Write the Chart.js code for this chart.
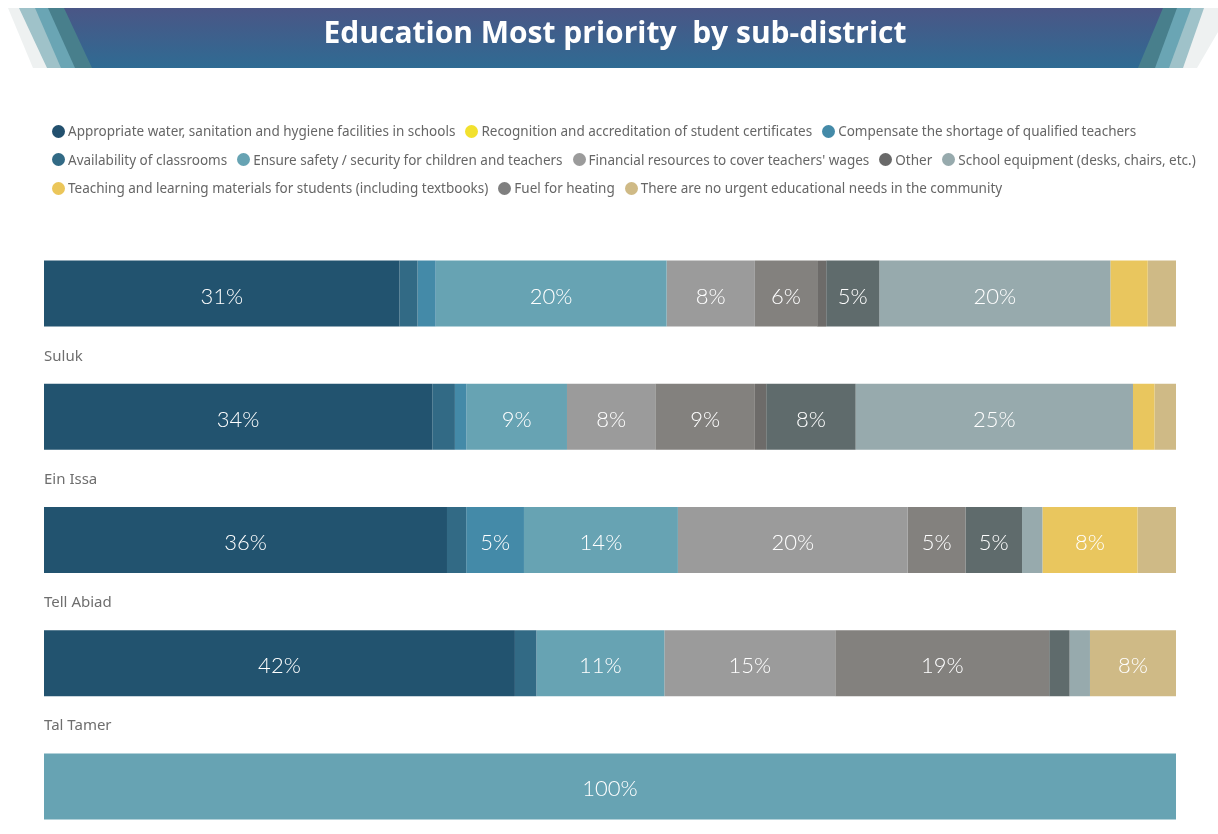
<!DOCTYPE html>
<html>
<head>
<meta charset="utf-8">
<title>Education Most priority by sub-district</title>
<script src="https://cdn.jsdelivr.net/npm/chart.js@4.4.0/dist/chart.umd.min.js"></script>
<style>
    html, body { margin: 0; padding: 0; background: #ffffff; overflow: hidden; }
    #wrap { position: relative; width: 1218px; height: 860px; }
    #legend {
        position: absolute;
        left: 52px;
        top: 117px;
        width: 1160px;
        display: flex;
        flex-wrap: wrap;
        column-gap: 10px;
        font-family: "Noto Sans", sans-serif;
        font-size: 13.5px;
        color: #666666;
    }
    #legend .item { display: flex; align-items: center; height: 28.5px; white-space: nowrap; }
    #legend .dot { width: 13px; height: 13px; border-radius: 50%; margin-right: 3px; }
</style>
</head>
<body>
<div id="wrap">
    <canvas id="priorityChart" width="1218" height="860"></canvas>
    <div id="legend"></div>
</div>
<script>
// Sub-districts, one bar each (name of the last bar is cut off in the picture)
const subDistricts = ["Suluk", "Ein Issa", "Tell Abiad", "Tal Tamer", ""];

// Priorities, in the order they are stacked in the bars
const priorityNames = [
    "Appropriate water, sanitation and hygiene facilities in schools",
    "Availability of classrooms",
    "Compensate the shortage of qualified teachers",
    "Ensure safety / security for children and teachers",
    "Financial resources to cover teachers' wages",
    "Fuel for heating",
    "Other",
    "Recognition and accreditation of student certificates",
    "School equipment (desks, chairs, etc.)",
    "Teaching and learning materials for students (including textbooks)",
    "There are no urgent educational needs in the community"
];

// Share of answers (%) per sub-district
const appropriateWater      = [31.4, 34.3, 35.6, 41.6, 0];
const availabilityClassroom = [1.6, 2.0, 1.7, 1.9, 0];
const compensateTeachers    = [1.6, 1.0, 5.1, 0, 0];
const ensureSafety          = [20.4, 8.9, 13.6, 11.3, 100];
const financialResources    = [7.8, 7.8, 20.3, 15.1, 0];
const fuelHeating           = [5.5, 8.8, 5.1, 18.9, 0];
const otherNeeds            = [0.8, 1.0, 0, 0, 0];
const recognitionCerts      = [4.7, 7.9, 5.0, 1.8, 0];
const schoolEquipment       = [20.4, 24.5, 1.8, 1.8, 0];
const teachingMaterials     = [3.3, 1.9, 8.4, 0, 0];
const noUrgentNeeds         = [2.5, 1.9, 3.4, 7.6, 0];

const seriesValues = [
    appropriateWater, availabilityClassroom, compensateTeachers, ensureSafety,
    financialResources, fuelHeating, otherNeeds, recognitionCerts,
    schoolEquipment, teachingMaterials, noUrgentNeeds
];

// Colours of the bar segments
const barColors = [
    "#22536f", "#326a85", "#448aa8", "#67a3b3", "#9b9b9b", "#83817e",
    "#6d6b69", "#5f6b6c", "#97aaad", "#e9c65e", "#cfba86"
];

// Legend shows the items in another order and with its own dots
const legendOrder = [0, 7, 2, 1, 3, 4, 6, 8, 9, 5, 10];
const legendColors = [
    "#22506e", "#326a85", "#448aa8", "#67a3b3", "#9b9b9b", "#7f7f7f",
    "#696969", "#f2e12e", "#97aaad", "#ebc65a", "#cfba86"
];

// Banner behind the title
const bannerPlugin = {
    id: "banner",
    beforeDraw(chart) {
        const ctx = chart.ctx;
        const top = 8, bottom = 68;
        const layers = [
            { color: "#eef1f1", t: [8, 1232], b: [33, 1197] },
            { color: "#9fc2c9", t: [19, 1204], b: [47, 1183] },
            { color: "#6aa5b4", t: [35, 1191], b: [61, 1169] },
            { color: "#487f8c", t: [48, 1177], b: [75, 1155] }
        ];
        ctx.save();
        layers.forEach(l => {
            ctx.fillStyle = l.color;
            ctx.beginPath();
            ctx.moveTo(l.t[0], top);
            ctx.lineTo(l.t[1], top);
            ctx.lineTo(l.b[1], bottom);
            ctx.lineTo(l.b[0], bottom);
            ctx.closePath();
            ctx.fill();
        });
        const grad = ctx.createLinearGradient(0, top, 0, bottom);
        grad.addColorStop(0, "#4a5686");
        grad.addColorStop(1, "#2f6b93");
        ctx.fillStyle = grad;
        ctx.beginPath();
        ctx.moveTo(64, top);
        ctx.lineTo(1163, top);
        ctx.lineTo(1138, bottom);
        ctx.lineTo(92, bottom);
        ctx.closePath();
        ctx.fill();
        ctx.restore();
    }
};

// Percentages written inside the segments
const segmentLabels = {
    id: "segmentLabels",
    afterDatasetsDraw(chart) {
        const ctx = chart.ctx;
        ctx.save();
        ctx.font = "300 22px Lato";
        ctx.fillStyle = "#ffffff";
        ctx.textAlign = "center";
        ctx.textBaseline = "middle";
        chart.data.datasets.forEach((ds, di) => {
            chart.getDatasetMeta(di).data.forEach((bar, i) => {
                const v = ds.data[i];
                if (v < 4) return;
                const c = bar.getCenterPoint();
                ctx.fillText(Math.round(v) + "%", c.x, c.y + 3);
            });
        });
        ctx.restore();
    }
};

// Sub-district names under each bar
const categoryNames = {
    id: "categoryNames",
    afterDatasetsDraw(chart) {
        const ctx = chart.ctx;
        const yScale = chart.scales.y;
        const meta = chart.getDatasetMeta(0);
        ctx.save();
        ctx.font = "15px 'Noto Sans'";
        ctx.fillStyle = "#6e6e6e";
        ctx.textAlign = "left";
        ctx.textBaseline = "middle";
        subDistricts.forEach((name, i) => {
            const half = meta.data[i].height / 2;
            ctx.fillText(name, chart.chartArea.left, yScale.getPixelForValue(i) + half + 30);
        });
        ctx.restore();
    }
};

const datasets = priorityNames.map((name, i) => ({
    label: name,
    data: seriesValues[i],
    backgroundColor: barColors[i],
    borderWidth: 0,
    barPercentage: 0.536,
    categoryPercentage: 1
}));

new Chart(document.getElementById("priorityChart"), {
    type: "bar",
    data: { labels: subDistricts, datasets: datasets },
    plugins: [bannerPlugin, segmentLabels, categoryNames],
    options: {
        indexAxis: "y",
        responsive: false,
        animation: false,
        layout: { padding: { left: 38, right: 26, top: 0, bottom: 12 } },
        scales: {
            x: {
                stacked: true,
                min: 0,
                max: 100,
                position: "top",
                grid: { display: false },
                border: { display: false },
                ticks: { display: false },
                afterFit: s => { s.height = 29; }
            },
            y: {
                stacked: true,
                grid: { display: false },
                border: { display: false },
                ticks: { display: false },
                afterFit: s => { s.width = 6; }
            },
            yRight: {
                type: "linear",
                position: "right",
                grid: { display: false },
                border: { display: false },
                ticks: { display: false },
                afterFit: s => { s.width = 16; }
            }
        },
        plugins: {
            title: {
                display: true,
                text: "Education Most priority  by sub-district",
                color: "#ffffff",
                font: { family: "Open Sans", size: 30, weight: "bold" },
                padding: { top: 16, bottom: 151 }
            },
            legend: { display: false },
            tooltip: { enabled: false }
        }
    }
});

// HTML legend built from the same arrays
const legendBox = document.getElementById("legend");
legendOrder.forEach(i => {
    const item = document.createElement("div");
    item.className = "item";
    const dot = document.createElement("span");
    dot.className = "dot";
    dot.style.background = legendColors[i];
    const text = document.createElement("span");
    text.textContent = priorityNames[i];
    item.appendChild(dot);
    item.appendChild(text);
    legendBox.appendChild(item);
});
</script>
</body>
</html>
